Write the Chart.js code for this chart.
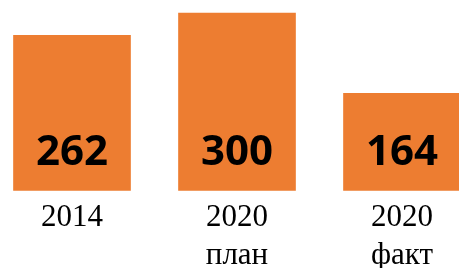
<!DOCTYPE html>
<html>
<head>
<meta charset="utf-8">
<script src="https://cdn.jsdelivr.net/npm/chart.js@4"></script>
<style>
  html, body { margin: 0; padding: 0; background: #fff; }
  #wrap { width: 459px; height: 268px; }
</style>
</head>
<body>
<div id="wrap"><canvas id="chart"></canvas></div>
<script>
// data
var categories = [['2014'], ['2020', 'план'], ['2020', 'факт']];
var values = [262, 300, 164];

// write the value near the bottom of each bar
var valueLabels = {
    id: 'valueLabels',
    afterDatasetsDraw: function(chart) {
        var ctx = chart.ctx;
        var meta = chart.getDatasetMeta(0);
        ctx.save();
        ctx.font = 'bold 42px "Open Sans"';
        ctx.fillStyle = '#000';
        ctx.textAlign = 'center';
        ctx.textBaseline = 'alphabetic';
        meta.data.forEach(function(bar, i) {
            ctx.fillText(String(values[i]), bar.x, bar.base - 25);
        });
        ctx.restore();
    }
};

var ctx = document.getElementById('chart').getContext('2d');
var chart = new Chart(ctx, {
    type: 'bar',
    data: {
        labels: categories,
        datasets: [{
            data: values,
            backgroundColor: '#ED7D31',
            borderWidth: 0,
            barThickness: 117,
            clip: false
        }]
    },
    options: {
        responsive: true,
        maintainAspectRatio: false,
        animation: false,
        layout: {
            padding: { left: 72, right: 57, top: 10, bottom: -8 }
        },
        plugins: {
            legend: { display: false },
            tooltip: { enabled: false }
        },
        scales: {
            x: {
                offset: false,
                grid: { display: false },
                border: { display: false },
                ticks: {
                    color: '#000',
                    padding: 1,
                    maxRotation: 0,
                    autoSkip: false,
                    font: { family: '"Liberation Serif"', size: 31, lineHeight: 1.22 }
                }
            },
            y: {
                display: false,
                min: 0,
                max: 305
            }
        }
    },
    plugins: [valueLabels]
});
</script>
</body>
</html>
